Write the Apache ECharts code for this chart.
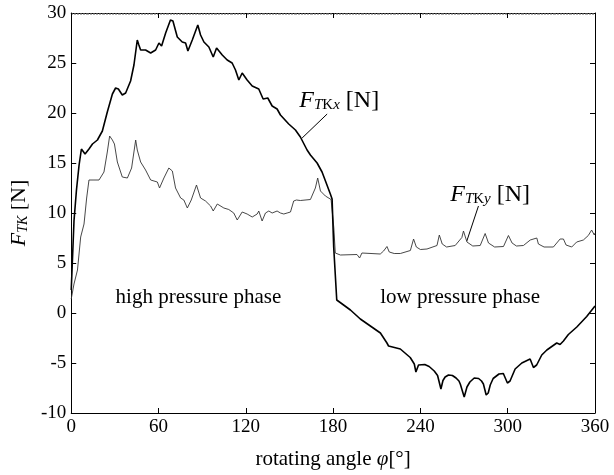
<!DOCTYPE html>
<html>
<head>
<meta charset="UTF-8">
<title>F_TK vs rotating angle</title>
<script src="https://cdn.jsdelivr.net/npm/echarts@6/dist/echarts.min.js"></script>
<style>
  html, body { margin: 0; padding: 0; background: #fff; }
  #main { width: 614px; height: 475px; }
</style>
</head>
<body>
<div id="main"></div>
<script type="text/javascript">
// data
var angleX = [0, 1.9, 3.6, 5.4, 7.0, 8.3, 9.5, 12.2, 14.6, 18.0, 21.4, 24.8, 28.3, 30.5, 32.4, 35.1, 37.4, 40.8, 43.1, 45.4,
  46.5, 47.7, 51.1, 54.6, 58.0, 60.3, 62.1, 64.9, 68.2, 69.9, 72.9, 76.3, 78.6, 80.2, 83.2, 87.0, 88.9, 91.2, 94.6, 97.6,
  99.9, 103.8, 107.2, 110.6, 112.9, 115.2, 117.5, 120.9, 124.4, 128.9, 131.9, 135.1, 138.1, 141.5, 143.8, 149.5, 154.1, 157.5, 162.1, 164.4,
  169.0, 170.2, 172.4, 175.0, 178.1, 179.3, 180.4, 182.5, 191.9, 198.7, 205.6, 212.5, 217.0, 218.1, 219.3, 226.2, 233.0, 235.8, 236.9, 238.7,
  240.0, 243.0, 246.0, 249.5, 251.8, 254.1, 255.5, 257.0, 259.3, 262.0, 264.5, 266.5, 267.4, 270.1, 272.0, 274.0, 277.0, 280.0, 282.0, 283.3,
  285.2, 286.6, 288.0, 290.0, 294.0, 297.0, 298.2, 299.8, 301.6, 305.1, 309.7, 315.4, 317.7, 319.9, 323.4, 326.9, 333.7, 336.0, 338.3, 341.7,
  347.5, 354.3, 360];
var forceX = [2.3, 9.2, 12.3, 14.8, 16.4, 16.2, 15.9, 16.4, 16.9, 17.3, 18.2, 20.1, 21.9, 22.5, 22.4, 21.8, 22.0, 23.2, 24.8, 27.3,
  26.8, 26.3, 26.3, 26.0, 26.3, 27.0, 26.7, 28.0, 29.3, 29.2, 27.6, 27.1, 27.0, 26.2, 27.3, 28.8, 27.8, 27.1, 26.6, 25.6,
  26.5, 25.8, 25.3, 25.0, 24.3, 23.3, 24.0, 23.3, 22.7, 22.4, 21.4, 21.5, 20.7, 20.4, 19.8, 18.9, 18.3, 17.6, 16.3, 15.8,
  15.0, 14.9, 14.1, 13.1, 11.9, 11.4, 6.6, 1.3, 0.3, -0.6, -1.3, -2.0, -3.0, -3.3, -3.4, -3.6, -4.45, -5.1, -5.9, -5.2,
  -5.1, -5.15, -5.35, -5.8, -6.25, -7.6, -6.75, -6.4, -6.2, -6.25, -6.5, -6.8, -7.1, -8.4, -7.4, -6.9, -6.5, -6.55, -6.8, -7.1,
  -8.2, -8.0, -7.2, -6.55, -6.1, -6.05, -6.0, -7.0, -6.8, -5.6, -5.0, -4.6, -5.45, -5.2, -4.2, -3.7, -3.0, -3.15, -2.8, -2.15,
  -1.4, -0.35, 0.7];

var angleY = [0, 1.9, 4.3, 6.5, 8.8, 10.6, 12.2, 15.0, 19.1, 22.5, 24.8, 26.4, 28.3, 29.7, 31.7, 35.1, 38.6, 41.5, 44.3, 45.4,
  47.7, 51.1, 54.6, 59.2, 60.7, 63.7, 67.1, 69.5, 71.7, 75.2, 77.4, 78.6, 79.8, 82.5, 86.1, 88.9, 92.3, 95.8, 97.6, 100.4,
  104.9, 108.3, 111.7, 114.1, 117.5, 120.9, 124.4, 127.8, 128.9, 131.2, 133.5, 135.8, 138.1, 141.5, 143.8, 146.1, 148.4, 150.7, 152.9, 154.8,
  157.5, 164.4, 167.8, 169.4, 171.3, 174.7, 178.6, 180.5, 181.5, 185.0, 196.4, 198.2, 199.8, 212.4, 214.7, 217.0, 218.6, 222.0, 226.2, 233.1,
  235.3, 237.2, 240.0, 244.5, 251.4, 253.0, 255.0, 258.0, 263.9, 268.5, 269.6, 272.0, 276.0, 281.1, 284.5, 286.8, 291.0, 297.1, 300.5, 303.0,
  306.0, 310.8, 315.5, 316.6, 320.0, 321.1, 325.0, 331.4, 336.0, 338.3, 340.1, 344.0, 347.4, 352.0, 355.4, 357.7, 359.5, 360];
var forceY = [1.4, 2.9, 4.3, 7.6, 8.9, 11.5, 13.3, 13.3, 13.3, 14.1, 16.1, 17.7, 17.3, 16.9, 15.1, 13.6, 13.5, 14.5, 17.3, 16.3,
  15.1, 14.3, 13.3, 13.1, 12.5, 13.5, 14.5, 14.2, 12.5, 11.5, 11.3, 11.4, 10.5, 11.3, 12.8, 11.5, 11.2, 10.7, 10.2, 10.9,
  10.5, 10.35, 10.0, 9.3, 10.1, 9.9, 9.6, 9.9, 10.2, 9.2, 10.0, 10.2, 10.0, 10.2, 10.0, 9.9, 10.0, 10.1, 11.2, 11.3,
  11.25, 11.35, 12.5, 13.5, 12.2, 11.7, 11.35, 8.5, 6.0, 5.8, 5.85, 5.5, 6.0, 5.9, 6.2, 6.65, 6.1, 5.95, 5.95, 6.25,
  7.4, 6.6, 6.35, 6.4, 6.75, 7.8, 6.9, 6.6, 6.75, 7.55, 8.2, 7.1, 6.7, 6.75, 7.95, 7.0, 6.6, 6.65, 7.75, 7.0,
  6.7, 6.75, 7.3, 7.5, 7.5, 6.9, 6.6, 6.6, 7.4, 7.4, 6.8, 6.6, 7.1, 7.3, 7.75, 8.3, 7.8, 8.0];

var xTicks = [0, 60, 120, 180, 240, 300, 360];
var yTicks = [-10, -5, 0, 5, 10, 15, 20, 25, 30];

function pairs(xs, ys) {
  var out = [];
  for (var i = 0; i < xs.length; i++) out.push([xs[i], ys[i]]);
  return out;
}

var FONT = 'Liberation Serif';
var myChart = echarts.init(document.getElementById('main'));

var axisCommon = {
  type: 'value',
  axisLine: { show: true, onZero: false, lineStyle: { color: '#000', width: 1 } },
  axisTick: { show: true, inside: true, length: 5, lineStyle: { color: '#000' } },
  splitLine: { show: false }
};

var option = {
  backgroundColor: '#fff',
  animation: false,
  grid: { left: 70, right: 19, top: 13, bottom: 57 },
  xAxis: [
    echarts.util.merge({
      min: xTicks[0], max: xTicks[xTicks.length - 1], interval: 60,
      position: 'bottom',
      name: '{t|rotating angle }{p|φ}{t|[°]}',
      nameLocation: 'middle', nameGap: 36,
      nameTextStyle: { rich: {
        t: { fontFamily: FONT, fontSize: 21, color: '#000' },
        p: { fontFamily: FONT, fontSize: 21, fontStyle: 'italic', color: '#000' }
      } },
      axisLabel: { fontFamily: FONT, fontSize: 19, color: '#000', margin: 5 }
    }, axisCommon, true),
    echarts.util.merge({
      min: 0, max: 360, interval: 60, position: 'top',
      axisLabel: { show: false },
      minorTick: { show: true, splitNumber: 60, length: 2, lineStyle: { color: '#777', width: 0.6 } }
    }, axisCommon, true)
  ],
  yAxis: [
    echarts.util.merge({
      min: yTicks[0], max: yTicks[yTicks.length - 1], interval: 5,
      position: 'left',
      name: '{f|F}{s|TK}{n| [N]}',
      nameLocation: 'middle', nameRotate: 90, nameGap: 40,
      nameTextStyle: { rich: {
        f: { fontFamily: FONT, fontSize: 22, fontStyle: 'italic', color: '#000', verticalAlign: 'bottom', lineHeight: 26 },
        s: { fontFamily: FONT, fontSize: 14, fontStyle: 'italic', color: '#000', verticalAlign: 'bottom', lineHeight: 11 },
        n: { fontFamily: FONT, fontSize: 22, color: '#000', verticalAlign: 'bottom', lineHeight: 26 }
      } },
      axisLabel: { fontFamily: FONT, fontSize: 19, color: '#000', margin: 5 }
    }, axisCommon, true),
    echarts.util.merge({
      min: -10, max: 30, interval: 5, position: 'right',
      axisLabel: { show: false }
    }, axisCommon, true)
  ],
  series: [
    {
      name: 'FTKx',
      type: 'line',
      data: pairs(angleX, forceX),
      showSymbol: false,
      lineStyle: { color: '#000', width: 1.6 },
      z: 3
    },
    {
      name: 'FTKy',
      type: 'line',
      data: pairs(angleY, forceY),
      showSymbol: false,
      lineStyle: { color: '#333', width: 0.9 },
      z: 2
    }
  ]
};
myChart.setOption(option);

// annotations, anchored in data space
function px(pt) { return myChart.convertToPixel({ xAxisIndex: 0, yAxisIndex: 0 }, pt); }

var labelRich = {
  f: { fontFamily: FONT, fontSize: 24, fontStyle: 'italic', color: '#000', verticalAlign: 'bottom', lineHeight: 28 },
  s: { fontFamily: FONT, fontSize: 15, fontStyle: 'italic', color: '#000', verticalAlign: 'bottom', lineHeight: 12 },
  k: { fontFamily: FONT, fontSize: 15, color: '#000', verticalAlign: 'bottom', lineHeight: 12 },
  n: { fontFamily: FONT, fontSize: 24, color: '#000', verticalAlign: 'bottom', lineHeight: 28 }
};

var lx = px([156.8, 21.4]), ly = px([260.5, 12.0]);
var hp = px([30.5, 1.6]), lp = px([212.4, 1.6]);
var a1 = px([175.9, 19.9]), a2 = px([158.7, 17.5]);
var b1 = px([279.9, 10.7]), b2 = px([271.9, 7.2]);

myChart.setOption({
  graphic: [
    { type: 'text', x: lx[0], y: lx[1], style: { text: '{f|F}{s|T}{k|K}{s|x}{n| [N]}', rich: labelRich, verticalAlign: 'middle' } },
    { type: 'text', x: ly[0], y: ly[1], style: { text: '{f|F}{s|T}{k|K}{s|y}{n| [N]}', rich: labelRich, verticalAlign: 'middle' } },
    { type: 'line', shape: { x1: a1[0], y1: a1[1], x2: a2[0], y2: a2[1] }, style: { stroke: '#000', lineWidth: 1 } },
    { type: 'line', shape: { x1: b1[0], y1: b1[1], x2: b2[0], y2: b2[1] }, style: { stroke: '#000', lineWidth: 1 } },
    { type: 'text', x: hp[0], y: hp[1], style: { text: 'high pressure phase', font: '21px "Liberation Serif"', fill: '#000', verticalAlign: 'middle' } },
    { type: 'text', x: lp[0], y: lp[1], style: { text: 'low pressure phase', font: '21px "Liberation Serif"', fill: '#000', verticalAlign: 'middle' } }
  ]
});
</script>
</body>
</html>
